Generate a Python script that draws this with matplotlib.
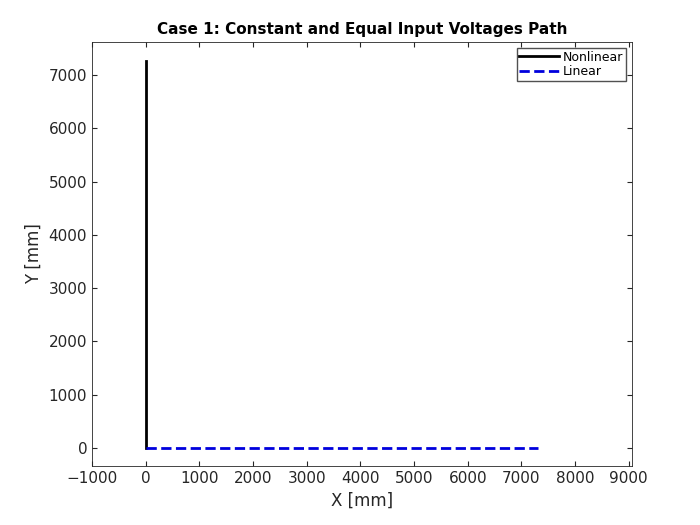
import matplotlib.pyplot as plt

# path endpoints
nonlinear_x = [0, 0]
nonlinear_y = [0, 7270]
linear_x = [0, 7300]
linear_y = [0, 0]

xticks = list(range(-1000, 9001, 1000))
yticks = list(range(0, 7001, 1000))

fig = plt.figure(figsize=(7, 5.25), dpi=100)
ax = fig.add_axes([92 / 700, 1 - 466 / 525, 540 / 700, 424 / 525])

ax.plot(nonlinear_x, nonlinear_y, color='black', linewidth=2, label='Nonlinear')
ax.plot(linear_x, linear_y, color='#0000dd', linestyle='--', linewidth=2, label='Linear')

ax.set_xlim(-1000, 9060)
ax.set_ylim(-340, 7620)
ax.set_xticks(xticks)
ax.set_yticks(yticks)
ax.tick_params(direction='in', top=True, right=True, labelsize=11, colors='#262626')
for s in ax.spines.values():
    s.set_color('#262626')
    s.set_linewidth(0.6)

ax.set_title('Case 1: Constant and Equal Input Voltages Path', fontsize=11, fontweight='bold')
ax.set_xlabel('X [mm]', fontsize=12, color='#262626')
ax.set_ylabel('Y [mm]', fontsize=12, color='#262626')

ax.legend(loc='upper right', fontsize=9, frameon=True, fancybox=False,
          edgecolor='#262626', handlelength=3.2, borderaxespad=0.5,
          borderpad=0.2, labelspacing=0.1, handletextpad=0.3)

fig.savefig('out.png', dpi=100)
